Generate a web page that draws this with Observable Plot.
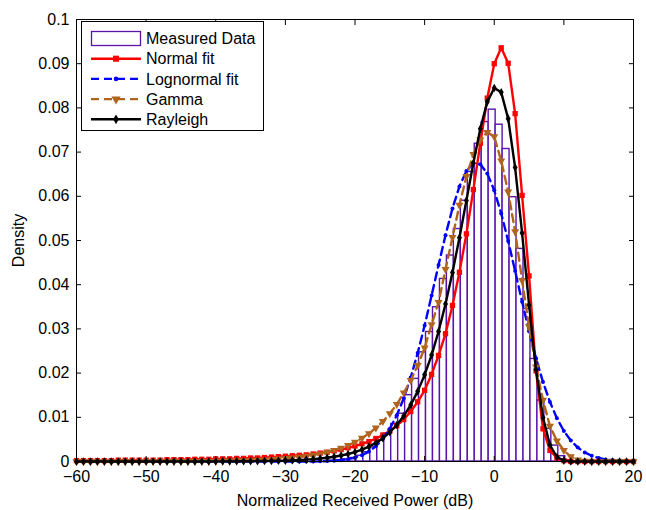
<!DOCTYPE html>
<html><head><meta charset="utf-8">
<script src="https://cdn.jsdelivr.net/npm/d3@7"></script>
<script src="https://cdn.jsdelivr.net/npm/@observablehq/plot@0.6"></script>
<style>
body{margin:0;background:#fff}
svg{font-family:"Liberation Sans",Arial,Helvetica,sans-serif}
</style>
</head><body><div id="chart"></div>
<script>
// ---- data ----
const seriesNames = ["Measured Data", "Normal fit", "Lognormal fit", "Gamma", "Rayleigh"];
const xTicks = [-60, -50, -40, -30, -20, -10, 0, 10, 20];
const yTicks = [0, 0.01, 0.02, 0.03, 0.04, 0.05, 0.06, 0.07, 0.08, 0.09, 0.1];

// histogram bins (centre in dB, width 1 dB) and density
const binCenters = [-23.3, -22.3, -21.3, -20.3, -19.3, -18.3, -17.3, -16.3, -15.3, -14.3, -13.3, -12.3, -11.3, -10.3,
  -9.3, -8.3, -7.3, -6.3, -5.3, -4.3, -3.3, -2.3, -1.3, -0.3, 0.7, 1.7, 2.7, 3.7, 4.7, 5.7, 6.7, 7.7, 8.7, 9.7, 10.7];
const binDensity = [0.0002, 0.0003, 0.0005, 0.0008, 0.0013, 0.0021, 0.0032, 0.0048, 0.0063, 0.0085, 0.0108, 0.0150, 0.0187, 0.0247,
  0.0293, 0.0349, 0.0413, 0.0466, 0.0526, 0.0590, 0.0655, 0.0719, 0.0768, 0.0796, 0.0762, 0.0707, 0.0598, 0.0481, 0.0345, 0.0232,
  0.0138, 0.0074, 0.0036, 0.0012, 0.0003];

// fitted curves sampled every 1 dB from -60 to 20
const xGrid = [-60,-59,-58,-57,-56,-55,-54,-53,-52,-51,-50,-49,-48,-47,-46,-45,-44,-43,-42,-41,
  -40,-39,-38,-37,-36,-35,-34,-33,-32,-31,-30,-29,-28,-27,-26,-25,-24,-23,-22,-21,
  -20,-19,-18,-17,-16,-15,-14,-13,-12,-11,-10,-9,-8,-7,-6,-5,-4,-3,-2,-1,
  0,1,2,3,4,5,6,7,8,9,10,11,12,13,14,15,16,17,18,19,20];

const normalFit = [0.0002,0.0002,0.0002,0.0002,0.0002,0.0002,0.0003,0.0003,0.0003,0.0003,0.0003,0.0003,0.0003,0.0004,0.0004,0.0004,0.0004,0.0005,0.0005,0.0005,
  0.0006,0.0006,0.0006,0.0007,0.0007,0.0008,0.0008,0.0009,0.0010,0.0011,0.0012,0.0013,0.0014,0.0015,0.0017,0.0019,0.0021,0.0024,0.0027,0.0031,
  0.0035,0.0040,0.0045,0.0052,0.0060,0.0069,0.0081,0.0095,0.0113,0.0135,0.0161,0.0197,0.0240,0.0289,0.0353,0.0428,0.0515,0.0615,0.0720,0.0822,
  0.0900,0.0936,0.0901,0.0787,0.0602,0.0420,0.0205,0.0074,0.0025,0.0008,0.0002,0,0,0,0,0,0,0,0,0,0];

const lognormalFit = [0,0,0,0,0,0,0,0,0,0,0,0,0,0,0,0,0,0,0,0,
  0,0,0,0,0,0,0,0,0,0,0,0,0,0,0,0.00005,0.00009,0.00017,0.0003,0.00052,
  0.00087,0.00142,0.00224,0.00344,0.00513,0.00742,0.01045,0.01429,0.0190,0.02454,0.03079,0.03754,0.04447,0.05119,0.05726,0.06223,0.06572,0.06744,0.06725,0.06516,
  0.06135,0.05611,0.04988,0.04309,0.03616,0.02949,0.02337,0.01799,0.01346,0.00978,0.00691,0.00474,0.00316,0.00205,0.00129,0.00079,0.00047,0.00027,0.00015,0.00008,0.00004];

const gammaFit = [0,0,0,0,0,0,0,0,0,0,0.00002,0.00002,0.00003,0.00003,0.00004,0.00004,0.00005,0.00006,0.00008,0.00009,
  0.00011,0.00013,0.00016,0.00019,0.00023,0.00028,0.00034,0.0004,0.00049,0.00059,0.0007,0.00085,0.00102,0.00122,0.00147,0.00176,0.00212,0.00255,0.00306,0.00367,
  0.0044,0.00528,0.00633,0.00759,0.00908,0.01086,0.01296,0.01551,0.01836,0.02177,0.0257,0.031,0.036,0.0435,0.0507,0.058,0.0645,0.0695,0.0728,0.0745,
  0.0735,0.068,0.061,0.052,0.041,0.0305,0.0214,0.0139,0.008,0.0047,0.0025,0.0011,0.0004,0.0001,0,0,0,0,0,0,0];

const rayleighFit = [0,0,0,0,0,0,0,0,0,0,0,0,0,0,0,0,0,0,0,0,
  0.00002,0.00003,0.00003,0.00004,0.00005,0.00007,0.00009,0.00011,0.00014,0.00017,0.0002,0.00027,0.00034,0.00043,0.00054,0.00068,0.00085,0.00107,0.00135,0.0017,
  0.00213,0.00268,0.00336,0.00421,0.00528,0.00661,0.00825,0.01029,0.0128,0.01587,0.0196,0.02408,0.02941,0.03563,0.04275,0.05064,0.05905,0.06752,0.0753,0.08137,
  0.08451,0.08352,0.07757,0.06651,0.05168,0.03542,0.02075,0.00997,0.00373,0.00102,0.00019,0,0,0,0,0,0,0,0,0,0];

// ---- styles ----
const PURPLE = "#5a14aa";
const BROWN = "#b0641e";
const FONT = "Liberation Sans, Arial, Helvetica, sans-serif";
const series = [
  {name: seriesNames[1], values: normalFit, stroke: "#ff0000", dash: null, symbol: "square", r: 3.0, rotate: 0},
  {name: seriesNames[2], values: lognormalFit, stroke: "#0000ff", dash: "8,5", symbol: "circle", r: 2.0, rotate: 0},
  {name: seriesNames[3], values: gammaFit, stroke: BROWN, dash: "8,5", symbol: "triangle", r: 3.0, rotate: 180},
  {name: seriesNames[4], values: rayleighFit, stroke: "#000000", dash: null, symbol: "diamond", r: 2.6, rotate: 0}
];

const bars = binCenters.map((c, i) => ({x1: c - 0.5, x2: c + 0.5, y: binDensity[i]}));

const curveMarks = series.flatMap(s => {
  const rows = xGrid.map((x, i) => ({x, y: s.values[i]}));
  return [
    Plot.line(rows, {x: "x", y: "y", stroke: s.stroke, strokeWidth: 2.4, strokeDasharray: s.dash}),
    Plot.dot(rows, {x: "x", y: "y", symbol: s.symbol, r: s.r, fill: s.stroke, rotate: s.rotate})
  ];
});

const fmtY = d3.format("~g");

const chart = Plot.plot({
  width: 646,
  height: 510,
  marginLeft: 76,
  marginRight: 13,
  marginTop: 19,
  marginBottom: 49,
  style: {fontFamily: FONT, fontSize: "16px", background: "white", color: "black"},
  x: {domain: [-60, 20]},
  y: {domain: [0, 0.1]},
  marks: [
    Plot.rectY(bars, {x1: "x1", x2: "x2", y: "y", fill: "white", stroke: PURPLE, strokeWidth: 1.4}),
    ...curveMarks,
    Plot.frame({stroke: "black", strokeWidth: 1}),
    Plot.axisX({anchor: "bottom", ticks: xTicks, tickSize: -5, tickPadding: 14, fontSize: 16,
      label: "Normalized Received Power (dB)", labelAnchor: "center", labelOffset: 44, labelArrow: "none"}),
    Plot.axisX({anchor: "top", ticks: xTicks, tickSize: -5, tickFormat: () => "", label: null}),
    Plot.axisY({anchor: "left", ticks: yTicks, tickSize: -5, tickPadding: 12, fontSize: 16, tickFormat: fmtY,
      label: "Density", labelAnchor: "center", labelOffset: 64, labelArrow: "none"}),
    Plot.axisY({anchor: "right", ticks: yTicks, tickSize: -5, tickFormat: () => "", label: null})
  ]
});

document.getElementById("chart").appendChild(chart);

// ---- legend (inside the axes, top-left) ----
const svg = d3.select(chart);
const lg = svg.append("g").attr("font-family", FONT).attr("font-size", 16).attr("text-anchor", "start").attr("fill", "black");
lg.append("rect").attr("x", 81.5).attr("y", 21.5).attr("width", 182).attr("height", 109)
  .attr("fill", "white").attr("stroke", "black").attr("stroke-width", 1);
const rowY = i => 38.5 + i * 20.2;
// Measured data swatch
lg.append("rect").attr("x", 91.5).attr("y", rowY(0) - 7).attr("width", 49).attr("height", 14)
  .attr("fill", "white").attr("stroke", PURPLE).attr("stroke-width", 1.3);
lg.append("text").attr("x", 146).attr("y", rowY(0)).attr("dy", "0.36em").text(seriesNames[0]);
const symbolMap = {square: d3.symbolSquare, circle: d3.symbolCircle, triangle: d3.symbolTriangle, diamond: d3.symbolDiamond};
series.forEach((s, j) => {
  const y = rowY(j + 1);
  lg.append("line").attr("x1", 91).attr("x2", 141).attr("y1", y).attr("y2", y)
    .attr("stroke", s.stroke).attr("stroke-width", 2.4).attr("stroke-dasharray", s.dash);
  lg.append("path").attr("d", d3.symbol(symbolMap[s.symbol], Math.PI * s.r * s.r * 1.3)())
    .attr("transform", `translate(116,${y}) rotate(${s.rotate})`).attr("fill", s.stroke);
  lg.append("text").attr("x", 146).attr("y", y).attr("dy", "0.36em").text(s.name);
});
</script>
</body></html>
